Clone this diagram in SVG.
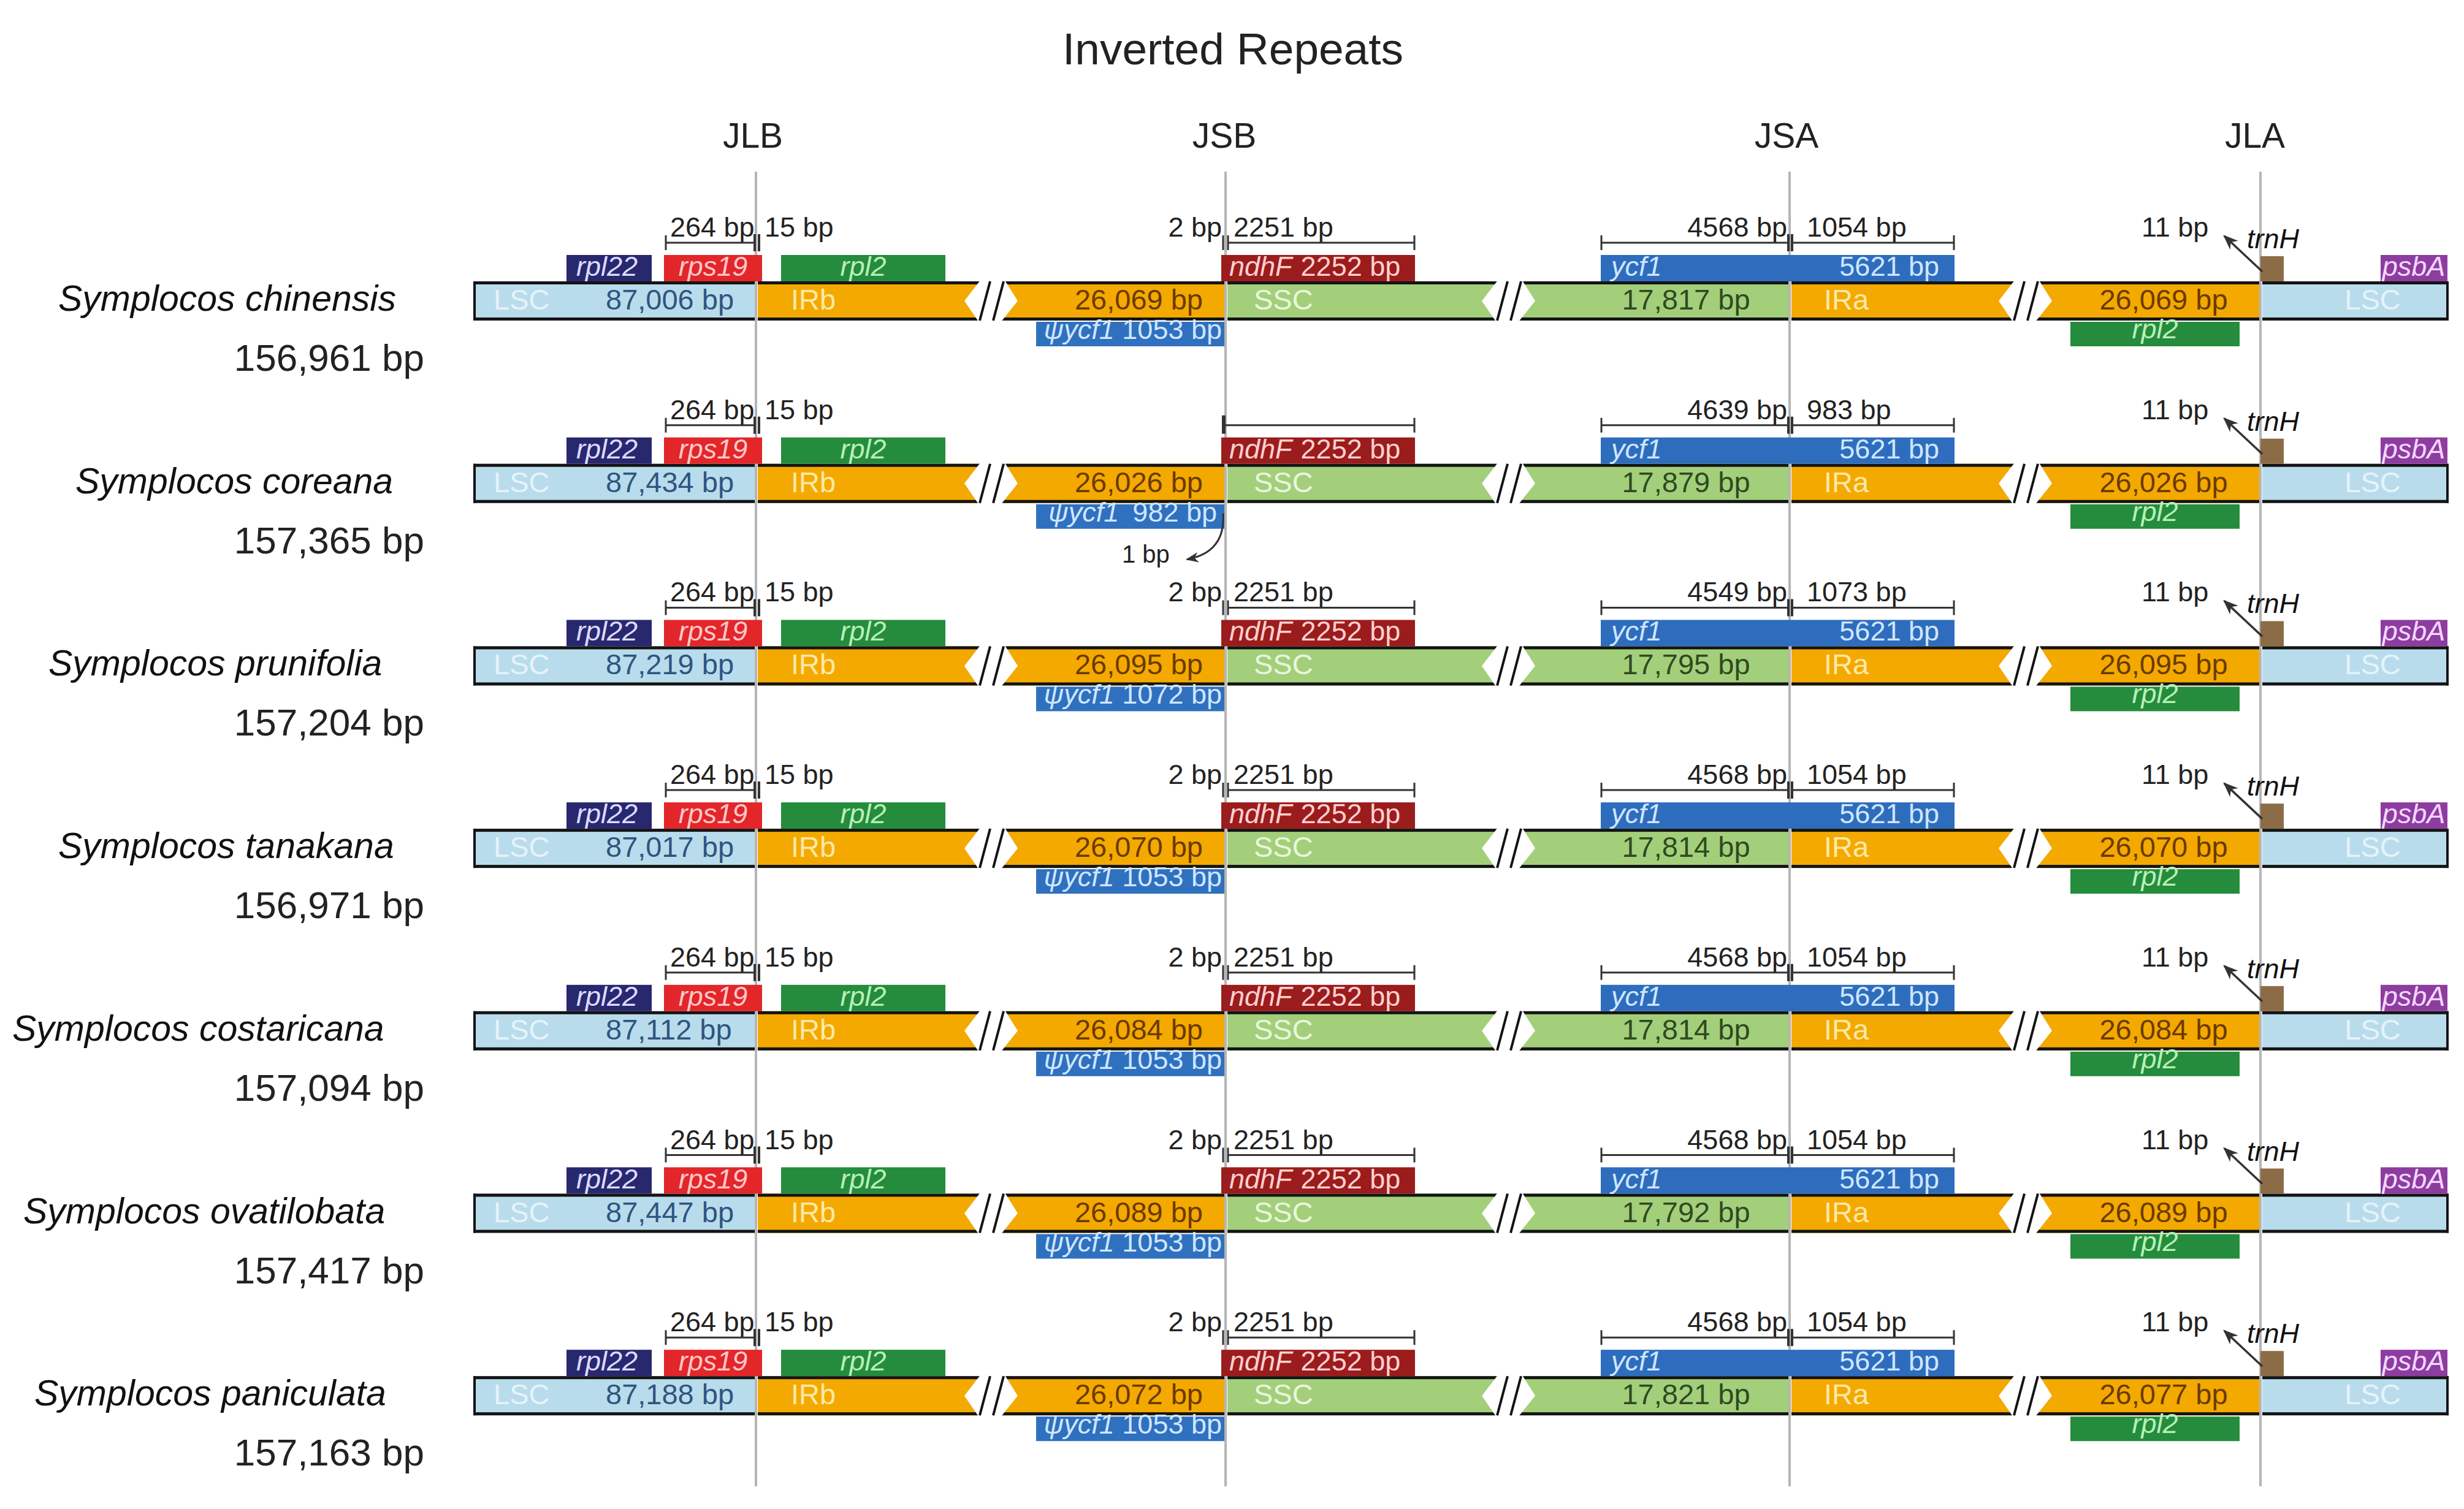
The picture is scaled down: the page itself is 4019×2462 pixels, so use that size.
<svg xmlns="http://www.w3.org/2000/svg" width="4019" height="2462" viewBox="0 0 4019 2462">
<style>
text{font-family:"Liberation Sans",Arial,Helvetica,sans-serif}
.lsc{fill:#b9dcec}.ir{fill:#f4a900}.ssc{fill:#a3cf7b}.bd{fill:#141414}.brk{fill:#ffffff}
.sl{stroke:#141414;stroke-width:4;fill:none}
.tk{stroke:#333;stroke-width:3;fill:none}
.tk2{stroke:#333;stroke-width:4;fill:none}
.vl{stroke:#b5b5b5;stroke-width:4}
.title{font-size:73px;fill:#222;text-anchor:middle}
.col{font-size:57px;fill:#222;text-anchor:middle}
.name{font-size:59px;font-style:italic;fill:#111}
.tot{font-size:62px;fill:#222;text-anchor:end}
.sc{font-size:45px;fill:#222}
.gl{font-size:45px}
.it{font-style:italic}
.bt{font-size:47px}
.lscl{fill:#e6f3f9}.irl{fill:#fde9a8}.sscl{fill:#eaf6dd}
.lscn{fill:#2e5580}.irn{fill:#6b3a00}.sscn{fill:#2f4a1f}
.end{text-anchor:end}.mid{text-anchor:middle}
</style>
<defs>
<marker id="ah" viewBox="0 0 10 10" refX="9" refY="5" markerWidth="7" markerHeight="7" orient="auto" markerUnits="strokeWidth">
<path d="M0,1 L10,5 L0,9 L3,5 Z" fill="#333"/>
</marker>
<g id="row">
<rect class="lsc" x="772" y="459" width="459" height="64"/>
<rect class="ir" x="1236" y="459" width="761" height="64"/>
<rect class="ssc" x="2002" y="459" width="915" height="64"/>
<rect class="ir" x="2922" y="459" width="763" height="64"/>
<rect class="lsc" x="3690" y="459" width="304" height="64"/>
<rect class="bd" x="772" y="459" width="459" height="5"/>
<rect class="bd" x="772" y="518" width="459" height="5"/>
<rect class="bd" x="772" y="459" width="4" height="64"/>
<rect class="bd" x="1236" y="459" width="761" height="5"/>
<rect class="bd" x="1236" y="518" width="761" height="5"/>
<rect class="bd" x="2002" y="459" width="915" height="5"/>
<rect class="bd" x="2002" y="518" width="915" height="5"/>
<rect class="bd" x="2922" y="459" width="763" height="5"/>
<rect class="bd" x="2922" y="518" width="763" height="5"/>
<rect class="bd" x="3690" y="459" width="304" height="5"/>
<rect class="bd" x="3690" y="518" width="304" height="5"/>
<rect class="bd" x="3990" y="459" width="4" height="64"/>
<polygon class="brk" points="1573,491 1600,456 1638,456 1660,491 1632,526 1597,526"/>
<path class="sl" d="M1615,459 L1598,523 M1637,459 L1620,523"/>
<polygon class="brk" points="2417,491 2444,456 2482,456 2504,491 2476,526 2441,526"/>
<path class="sl" d="M2459,459 L2442,523 M2481,459 L2464,523"/>
<polygon class="brk" points="3260,491 3287,456 3325,456 3347,491 3319,526 3284,526"/>
<path class="sl" d="M3302,459 L3285,523 M3324,459 L3307,523"/>
<text class="bt lscl" x="805" y="505">LSC</text>
<text class="bt irl" x="1290" y="505">IRb</text>
<text class="bt sscl" x="2045" y="505">SSC</text>
<text class="bt irl" x="2975" y="505">IRa</text>
<text class="bt lscl mid" x="3870" y="505">LSC</text>
<rect x="924" y="416" width="139" height="43" fill="#28286f"/>
<text class="gl it mid" x="990" y="450" fill="#dcdcff">rpl22</text>
<rect x="1083" y="416" width="160" height="43" fill="#e2262a"/>
<text class="gl it mid" x="1163" y="450" fill="#ffc8c8">rps19</text>
<rect x="1274" y="416" width="268" height="43" fill="#248c3c"/>
<text class="gl it mid" x="1408" y="450" fill="#b8f0b8">rpl2</text>
<rect x="1992" y="416" width="316" height="43" fill="#9b1c1c"/>
<text class="gl" x="2005" y="450" fill="#ffd0d0"><tspan class="it">ndhF</tspan><tspan dx="14">2252 bp</tspan></text>
<rect x="2611" y="416" width="577" height="43" fill="#2e6dbd"/>
<text class="gl it" x="2628" y="450" fill="#cfe6ff">ycf1</text>
<text class="gl end" x="3163" y="450" fill="#cfe6ff">5621 bp</text>
<rect x="3687" y="418" width="38" height="41" fill="#8c6b47"/>
<rect x="3883" y="416" width="109" height="43" fill="#8d3c9f"/>
<text class="gl it mid" x="3937" y="450" fill="#f3d8ff">psbA</text>
<rect x="1690" y="525" width="307" height="40" fill="#2f70bf"/>
<rect x="3377" y="525" width="276" height="40" fill="#248c3c"/>
<text class="gl it mid" x="3515" y="552" fill="#b8f0b8">rpl2</text>
<path class="tk" d="M1086,384 V408 M1086,396 H1233 M2612,384 V408 M2612,396 H2917 M2923,396 H3187 M3187,384 V408"/>
<path class="tk2" d="M1231,382 V410 M1238,382 V410 M2917,382 V410 M2923,382 V410"/>
<text class="sc" x="1093" y="386">264 bp</text>
<text class="sc" x="1247" y="386">15 bp</text>
<text class="sc" x="3493" y="386">11 bp</text>
<path d="M3690,443 L3628,385" stroke="#333" stroke-width="3.5" fill="none" marker-end="url(#ah)"/>
<text class="gl it" x="3665" y="405" fill="#111">trnH</text>
</g>
<g id="jsb">
<path class="tk" d="M1995,384 V408 M2003,384 V408 M2003,396 H2307 M2307,384 V408"/>
</g>
</defs>

<g id="title">
<text class="title" x="2011" y="105">Inverted Repeats</text>
</g>
<g id="junction-labels">
<text class="col" x="1228" y="241">JLB</text>
<text class="col" x="1997" y="241">JSB</text>
<text class="col" x="2914" y="241">JSA</text>
<text class="col" x="3678" y="241">JLA</text>
</g>
<g id="connectors">
<line class="vl" x1="1233" y1="280" x2="1233" y2="2425"/>
<line class="vl" x1="1999" y1="280" x2="1999" y2="2425"/>
<line class="vl" x1="2919" y1="280" x2="2919" y2="2425"/>
<line class="vl" x1="3687" y1="280" x2="3687" y2="2425"/>
</g>

<g id="row-chinensis">
<use href="#row"/><use href="#jsb"/>
<text class="name" x="95" y="507">Symplocos chinensis</text>
<text class="tot" x="692" y="605">156,961 bp</text>
<text class="bt lscn" x="988" y="505">87,006 bp</text>
<text class="bt irn end" x="1962" y="505">26,069 bp</text>
<text class="bt sscn mid" x="2750" y="505">17,817 bp</text>
<text class="bt irn mid" x="3529" y="505">26,069 bp</text>
<text class="gl end" x="1993" y="553" fill="#cfe6ff"><tspan class="it">ψycf1</tspan> 1053 bp</text>
<text class="sc end" x="1993" y="386">2 bp</text>
<text class="sc" x="2012" y="386">2251 bp</text>
<text class="sc end" x="2915" y="386">4568 bp</text>
<text class="sc" x="2947" y="386">1054 bp</text>
</g>

<g id="row-coreana" transform="translate(0,297.7)">
<use href="#row"/>
<path class="tk" d="M1999,396 H2307 M2307,384 V408"/>
<path d="M1996,380 V410" stroke="#333" stroke-width="6"/>
<text class="name" x="123" y="507">Symplocos coreana</text>
<text class="tot" x="692" y="605">157,365 bp</text>
<text class="bt lscn" x="988" y="505">87,434 bp</text>
<text class="bt irn end" x="1962" y="505">26,026 bp</text>
<text class="bt sscn mid" x="2750" y="505">17,879 bp</text>
<text class="bt irn mid" x="3529" y="505">26,026 bp</text>
<text class="gl end" x="1985" y="553" fill="#cfe6ff"><tspan class="it">ψycf1</tspan><tspan dx="22">982 bp</tspan></text>
<path d="M1995,540 C1998,585 1975,608 1936,615" stroke="#333" stroke-width="3" fill="none" marker-end="url(#ah)"/>
<text x="1830" y="620" font-size="40" fill="#222">1 bp</text>
<text class="sc end" x="2915" y="386">4639 bp</text>
<text class="sc" x="2947" y="386">983 bp</text>
</g>

<g id="row-prunifolia" transform="translate(0,595.4)">
<use href="#row"/><use href="#jsb"/>
<text class="name" x="79" y="507">Symplocos prunifolia</text>
<text class="tot" x="692" y="605">157,204 bp</text>
<text class="bt lscn" x="988" y="505">87,219 bp</text>
<text class="bt irn end" x="1962" y="505">26,095 bp</text>
<text class="bt sscn mid" x="2750" y="505">17,795 bp</text>
<text class="bt irn mid" x="3529" y="505">26,095 bp</text>
<text class="gl end" x="1993" y="553" fill="#cfe6ff"><tspan class="it">ψycf1</tspan> 1072 bp</text>
<text class="sc end" x="1993" y="386">2 bp</text>
<text class="sc" x="2012" y="386">2251 bp</text>
<text class="sc end" x="2915" y="386">4549 bp</text>
<text class="sc" x="2947" y="386">1073 bp</text>
</g>

<g id="row-tanakana" transform="translate(0,893.1)">
<use href="#row"/><use href="#jsb"/>
<text class="name" x="95" y="507">Symplocos tanakana</text>
<text class="tot" x="692" y="605">156,971 bp</text>
<text class="bt lscn" x="988" y="505">87,017 bp</text>
<text class="bt irn end" x="1962" y="505">26,070 bp</text>
<text class="bt sscn mid" x="2750" y="505">17,814 bp</text>
<text class="bt irn mid" x="3529" y="505">26,070 bp</text>
<text class="gl end" x="1993" y="553" fill="#cfe6ff"><tspan class="it">ψycf1</tspan> 1053 bp</text>
<text class="sc end" x="1993" y="386">2 bp</text>
<text class="sc" x="2012" y="386">2251 bp</text>
<text class="sc end" x="2915" y="386">4568 bp</text>
<text class="sc" x="2947" y="386">1054 bp</text>
</g>

<g id="row-costaricana" transform="translate(0,1190.8)">
<use href="#row"/><use href="#jsb"/>
<text class="name" x="20" y="507">Symplocos costaricana</text>
<text class="tot" x="692" y="605">157,094 bp</text>
<text class="bt lscn" x="988" y="505">87,112 bp</text>
<text class="bt irn end" x="1962" y="505">26,084 bp</text>
<text class="bt sscn mid" x="2750" y="505">17,814 bp</text>
<text class="bt irn mid" x="3529" y="505">26,084 bp</text>
<text class="gl end" x="1993" y="553" fill="#cfe6ff"><tspan class="it">ψycf1</tspan> 1053 bp</text>
<text class="sc end" x="1993" y="386">2 bp</text>
<text class="sc" x="2012" y="386">2251 bp</text>
<text class="sc end" x="2915" y="386">4568 bp</text>
<text class="sc" x="2947" y="386">1054 bp</text>
</g>

<g id="row-ovatilobata" transform="translate(0,1488.5)">
<use href="#row"/><use href="#jsb"/>
<text class="name" x="38" y="507">Symplocos ovatilobata</text>
<text class="tot" x="692" y="605">157,417 bp</text>
<text class="bt lscn" x="988" y="505">87,447 bp</text>
<text class="bt irn end" x="1962" y="505">26,089 bp</text>
<text class="bt sscn mid" x="2750" y="505">17,792 bp</text>
<text class="bt irn mid" x="3529" y="505">26,089 bp</text>
<text class="gl end" x="1993" y="553" fill="#cfe6ff"><tspan class="it">ψycf1</tspan> 1053 bp</text>
<text class="sc end" x="1993" y="386">2 bp</text>
<text class="sc" x="2012" y="386">2251 bp</text>
<text class="sc end" x="2915" y="386">4568 bp</text>
<text class="sc" x="2947" y="386">1054 bp</text>
</g>

<g id="row-paniculata" transform="translate(0,1786.2)">
<use href="#row"/><use href="#jsb"/>
<text class="name" x="56" y="507">Symplocos paniculata</text>
<text class="tot" x="692" y="605">157,163 bp</text>
<text class="bt lscn" x="988" y="505">87,188 bp</text>
<text class="bt irn end" x="1962" y="505">26,072 bp</text>
<text class="bt sscn mid" x="2750" y="505">17,821 bp</text>
<text class="bt irn mid" x="3529" y="505">26,077 bp</text>
<text class="gl end" x="1993" y="553" fill="#cfe6ff"><tspan class="it">ψycf1</tspan> 1053 bp</text>
<text class="sc end" x="1993" y="386">2 bp</text>
<text class="sc" x="2012" y="386">2251 bp</text>
<text class="sc end" x="2915" y="386">4568 bp</text>
<text class="sc" x="2947" y="386">1054 bp</text>
</g>
</svg>
